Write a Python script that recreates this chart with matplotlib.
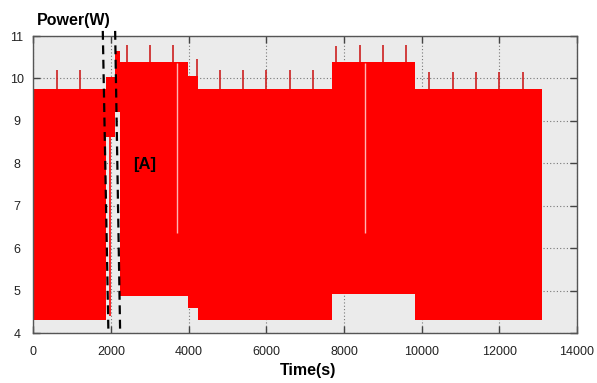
import matplotlib

matplotlib.use("Agg")
import matplotlib.pyplot as plt

plt.rcParams["font.family"] = ["Liberation Sans", "DejaVu Sans"]

# step segments of the power envelope (s, W)
seg_start = [0, 1870, 2100, 2220, 3970, 4250, 7690, 9830]
seg_end = [1870, 2100, 2220, 3970, 4250, 7690, 9830, 13110]
seg_upper = [9.75, 10.04, 10.65, 10.38, 10.05, 9.74, 10.38, 9.75]
seg_lower = [4.30, 8.62, 9.20, 4.88, 4.58, 4.30, 4.92, 4.30]

# periodic peaks above the envelope
spike_time = [600, 1200, 2400, 3000, 3600, 4200, 4800, 5400, 6000, 6600,
              7200, 7800, 8400, 9000, 9600, 10200, 10800, 11400, 12000, 12600]
spike_base = [9.75, 9.75, 10.38, 10.38, 10.38, 10.05, 9.74, 9.74, 9.74, 9.74,
              9.74, 10.38, 10.38, 10.38, 10.38, 9.75, 9.75, 9.75, 9.75, 9.75]
spike_top = [10.2, 10.2, 10.79, 10.79, 10.79, 10.46, 10.2, 10.2, 10.2, 10.2,
             10.2, 10.77, 10.79, 10.79, 10.79, 10.16, 10.16, 10.16, 10.16, 10.16]

# thin gaps in the red band
gap_time = [3690, 8530]
gap_top = [10.36, 10.36]
gap_bottom = [6.35, 6.35]

# marker lines around region [A]
marker_top_x = [1785, 2103]
marker_bottom_x = [1930, 2232]

x_ticks = [0, 2000, 4000, 6000, 8000, 10000, 12000, 14000]
y_ticks = [4, 5, 6, 7, 8, 9, 10, 11]

fig = plt.figure(figsize=(5.97, 3.83), dpi=100)
ax = fig.add_axes([0.0561, 0.1305, 0.9104, 0.7755])
ax.set_facecolor("#ebebeb")

for s, e, hi, lo in zip(seg_start, seg_end, seg_upper, seg_lower):
    ax.fill_between([s, e], [lo, lo], [hi, hi], color="#ff0000",
                    linewidth=0, zorder=2)

# single dip inside the short block
ax.vlines(1970, 4.4, 8.62, color="#ff0000", linewidth=1.2, zorder=2)

ax.vlines(spike_time, spike_base, spike_top, color="#cc2020",
          linewidth=1.2, zorder=3)
ax.vlines(gap_time, gap_bottom, gap_top, color="#ffb3b3",
          linewidth=1.0, zorder=3)

for xt, xb in zip(marker_top_x, marker_bottom_x):
    ax.plot([xt, xb], [11.12, 4.0], color="black", linestyle=(0, (4, 2.5)),
            linewidth=1.6, zorder=4, clip_on=False)

ax.text(2862, 7.96, "[A]", fontsize=12, fontweight="bold",
        ha="center", va="center", zorder=5)

ax.set_xlim(0, 14000)
ax.set_ylim(4, 11)
ax.set_xticks(x_ticks)
ax.set_yticks(y_ticks)

ax.grid(True, color="#777777", linestyle=(0, (1, 2)), linewidth=0.8)
ax.set_axisbelow(True)

ax.tick_params(direction="in", top=True, right=True, length=5,
               width=1, color="#444444", labelsize=9, labelcolor="#222222")
ax.tick_params(axis="x", pad=9)
ax.tick_params(axis="y", pad=12)
for lab in ax.get_yticklabels():
    lab.set_horizontalalignment("center")

for spine in ax.spines.values():
    spine.set_color("#555555")
    spine.set_linewidth(1.0)

fig.text(37 / 597, 1 - 20 / 383, "Power(W)", fontsize=11.5,
         fontweight="bold", ha="left", va="center")
fig.text(308 / 597, 1 - 371 / 383, "Time(s)", fontsize=11.5,
         fontweight="bold", ha="center", va="center")

fig.savefig("out.png", dpi=100)
plt.close(fig)
